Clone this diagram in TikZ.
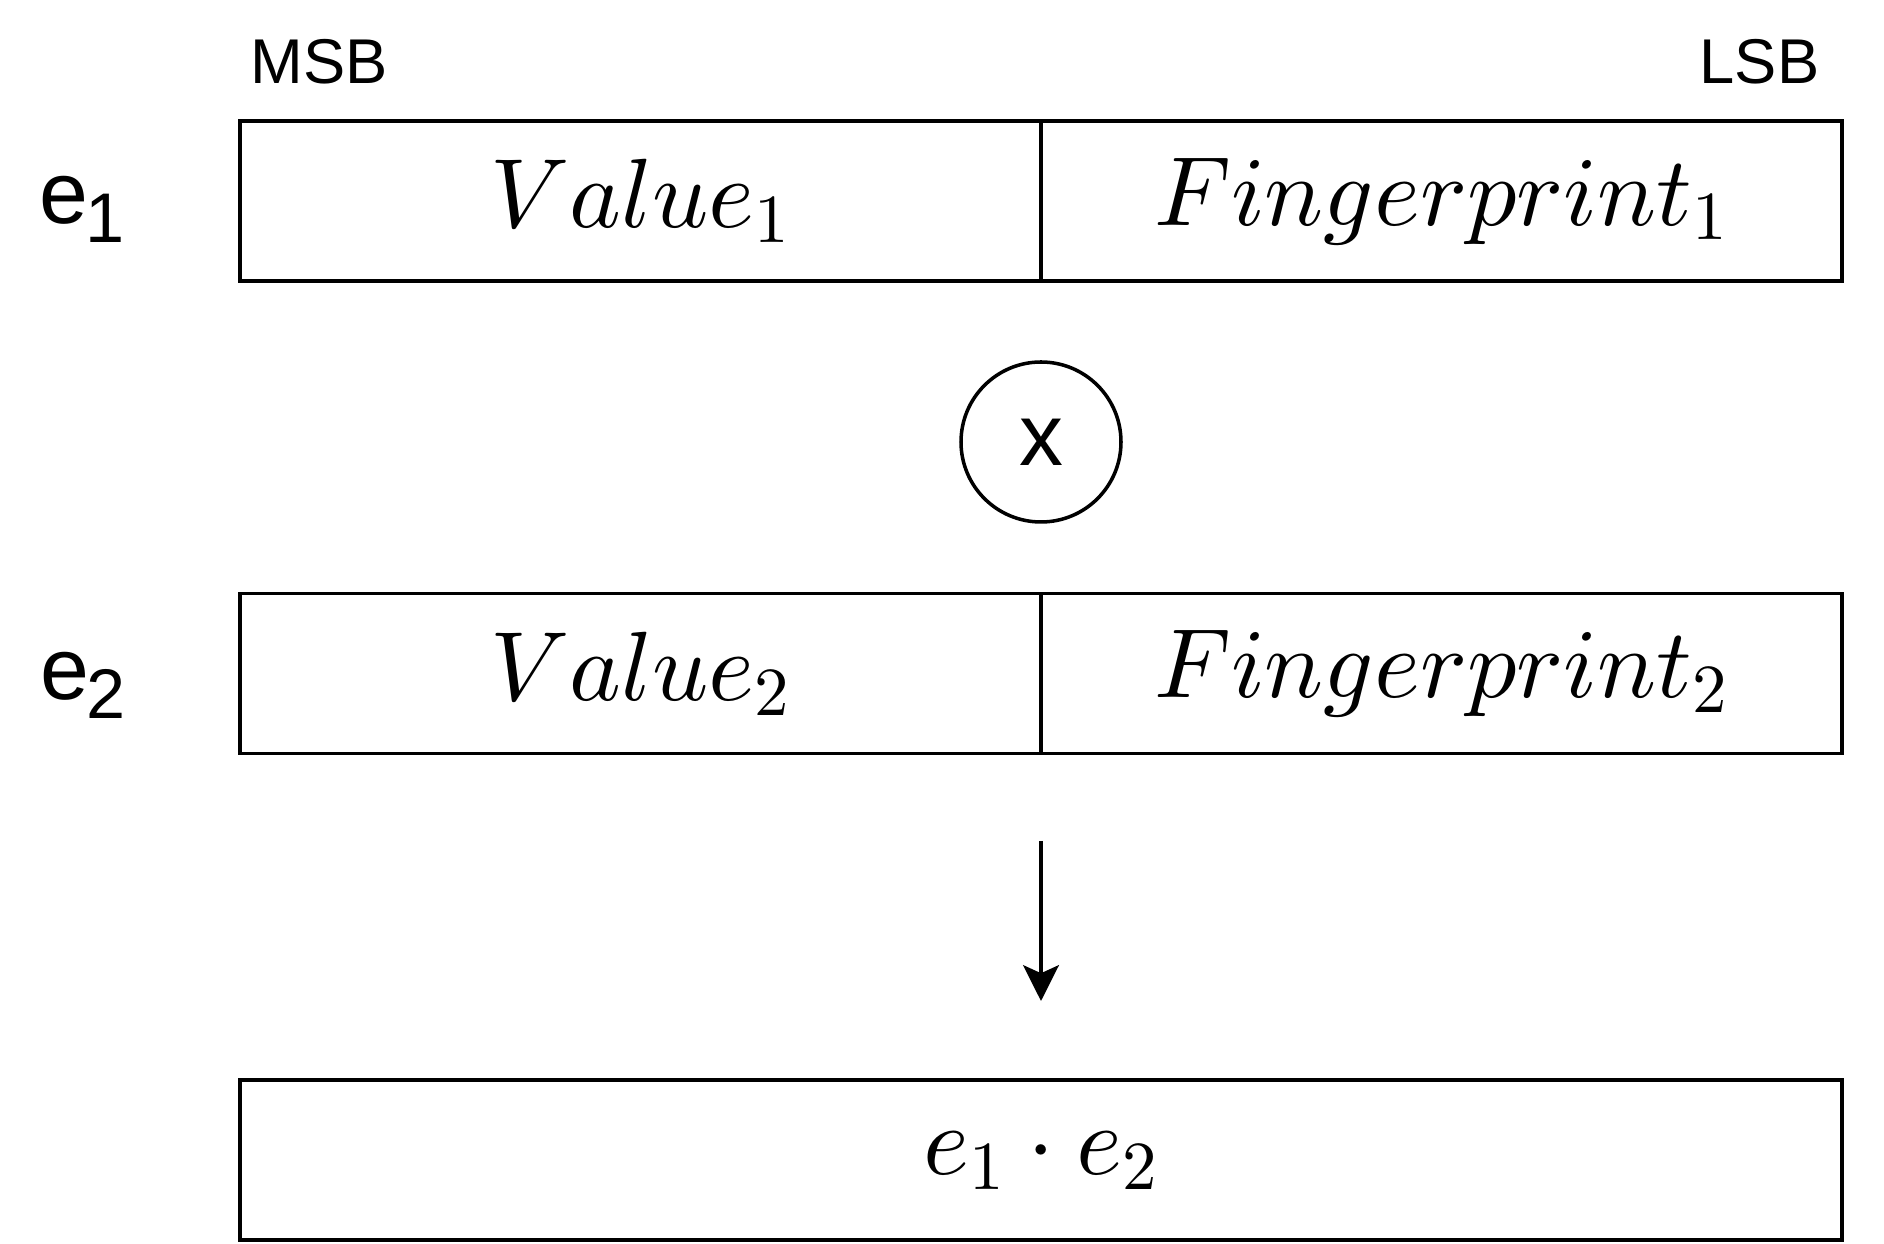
\RequirePackage{fix-cm}
\documentclass[tikz,border=0pt]{standalone}
\usepackage{amsmath}
\usepackage{fontspec}
\setsansfont{Liberation Sans}
\usepackage{tikz}
\usetikzlibrary{positioning,arrows.meta}

% heavier math letters at large sizes
\DeclareFontShape{OML}{cmm}{m}{it}{<->cmmi10}{\skewchar\font'177}
\DeclareFontShape{OT1}{cmr}{m}{n}{<->cmr10}{}
\DeclareFontShape{OMS}{cmsy}{m}{n}{<->cmsy10}{\skewchar\font'60}

\newcommand{\elbl}[1]{e\kern-1pt\raisebox{-5.4pt}{\fontsize{20}{24}\selectfont #1}}

\tikzset{
  cell/.style={draw, line width=1pt, minimum width=8.01cm, minimum height=1.6cm,
    inner sep=0pt, outer sep=0pt, font=\fontsize{28}{34}\selectfont},
  opcircle/.style={draw, circle, line width=1pt, minimum size=1.6cm, inner sep=0pt,
    font=\sffamily\fontsize{25}{30}\selectfont},
  bitlbl/.style={inner sep=0pt, font=\sffamily\fontsize{18}{22}\selectfont},
  rowlbl/.style={inner sep=0pt, anchor=base west, font=\sffamily\fontsize{25}{30}\selectfont}
}

\begin{document}
\begin{tikzpicture}
\useasboundingbox (0,0) rectangle (18.84,12.44);
%
\node[bitlbl, anchor=base west] (msb) at (2.50,11.60) {MSB};
\node[bitlbl, anchor=base east] (lsb) at (18.20,11.60) {LSB};
%
\node[cell] (v1) at (6.405,10.43) {$Value_1$};
\node[cell, right=0pt of v1] (f1) {$Fingerprint_1$};
\node[rowlbl] (e1) at (0.39,10.20) {\elbl{1}};
%
\node[opcircle] (op) at (10.41,8.02) {x};
%
\node[cell] (v2) at (6.405,5.705) {$Value_2$};
\node[cell, right=0pt of v2] (f2) {$Fingerprint_2$};
\node[rowlbl] (e2) at (0.40,5.44) {\elbl{2}};
%
\coordinate (arrtop) at (10.41,4.03);
\coordinate (arrbot) at (10.41,2.43);
\draw[line width=1pt, -{Stealth[length=10.2pt,width=10.2pt,inset=2.3pt]}] (arrtop) -- (arrbot);
%
\node[cell, minimum width=16.02cm] (prod) at (10.41,0.84) {$e_1 \cdot e_2$};
\end{tikzpicture}
\end{document}
